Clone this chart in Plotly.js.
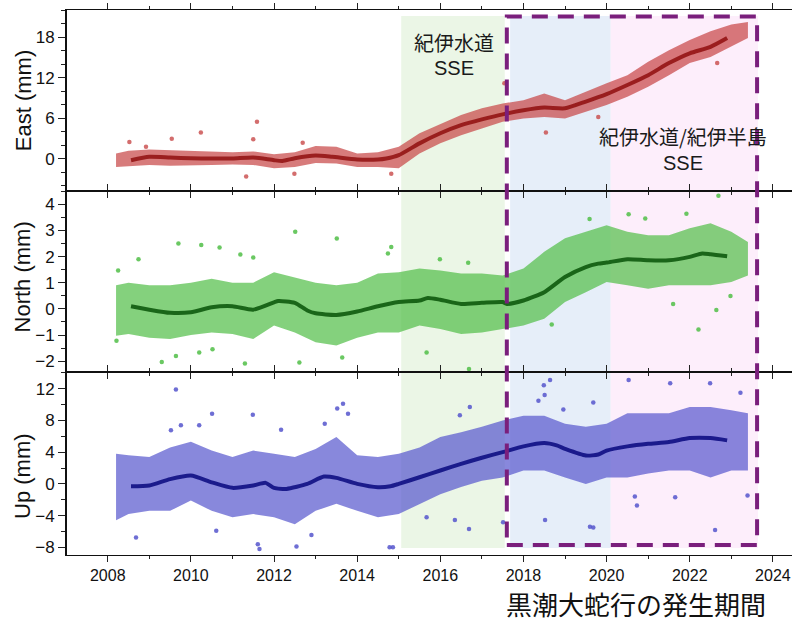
<!DOCTYPE html>
<html>
<head>
<meta charset="utf-8">
<script src="https://cdn.plot.ly/plotly-3.0.1.min.js"></script>
<style>html,body{margin:0;padding:0;background:#fff;}#chart{width:792px;height:621px;}</style>
</head>
<body>
<div id="chart"></div>
<script>
// ---- data ----
const envYears = [2008.2, 2008.5, 2009, 2009.5, 2010, 2010.5, 2011, 2011.5, 2012, 2012.5, 2013, 2013.5, 2014, 2014.5, 2015, 2015.5, 2016, 2016.5, 2017, 2017.5, 2018, 2018.5, 2019, 2019.5, 2020, 2020.5, 2021, 2021.5, 2022, 2022.5, 2023, 2023.4];

// East
const eastUpper = [0.8, 1.2, 1.4, 1.3, 1.3, 1.1, 1.0, 1.1, 0.7, 1.0, 1.9, 1.8, 0.8, 1.0, 1.8, 3.8, 5.2, 6.5, 7.5, 8.2, 8.7, 9.7, 8.7, 10.0, 11.2, 12.4, 14.4, 16.1, 17.6, 18.9, 19.9, 20.3];
const eastLower = [-1.2, -1.1, -0.9, -1.0, -0.9, -0.9, -0.85, -0.9, -1.4, -1.2, -0.6, -0.7, -1.2, -1.2, -1.4, 0.8, 2.3, 3.5, 4.5, 5.5, 6.0, 6.2, 6.0, 7.0, 8.0, 9.2, 10.7, 12.4, 14.2, 15.1, 16.6, 17.9];
const eastTrendYears = [2008.56, 2009, 2009.5, 2010, 2010.5, 2011, 2011.5, 2012, 2012.2, 2012.5, 2013, 2013.4, 2014, 2014.5, 2014.7, 2015, 2015.5, 2016, 2016.5, 2017, 2017.5, 2018, 2018.5, 2019, 2019.5, 2020, 2020.5, 2021, 2021.5, 2022, 2022.5, 2022.9];
const eastTrend = [-0.2, 0.3, 0.2, 0.1, 0.05, 0.05, 0.2, -0.2, -0.3, 0.1, 0.5, 0.3, -0.1, -0.1, 0.05, 0.55, 2.3, 3.8, 5.0, 5.85, 6.6, 7.2, 7.6, 7.5, 8.5, 9.6, 10.95, 12.4, 14.2, 15.65, 16.6, 17.9];
const eastOutX = [2008.52, 2008.92, 2009.54, 2010.24, 2011.59, 2011.5, 2011.33, 2012.69, 2012.49, 2014.82, 2017.54, 2018.54, 2022.66, 2019.8];
const eastOutY = [2.5, 1.8, 3.0, 3.9, 5.5, 2.9, -2.6, 2.4, -2.2, -2.2, 11.2, 3.9, 14.2, 6.2];

// North
const northUpper = [0.9, 1.0, 0.9, 0.9, 1.0, 1.15, 1.0, 1.0, 1.4, 1.2, 1.0, 0.9, 1.0, 1.35, 1.4, 1.54, 1.47, 1.35, 1.35, 1.28, 1.54, 2.18, 2.7, 2.95, 3.2, 2.95, 2.82, 2.82, 3.08, 3.27, 2.95, 2.56];
const northLower = [-1.03, -0.96, -1.1, -1.15, -1.0, -0.9, -0.96, -1.15, -0.64, -0.9, -1.28, -1.4, -1.1, -0.9, -0.9, -0.64, -0.77, -0.96, -0.9, -0.77, -0.64, -0.38, 0.26, 0.64, 1.03, 0.9, 0.77, 0.9, 0.9, 0.9, 1.03, 1.28];
const northTrendYears = [2008.56, 2009, 2009.5, 2010, 2010.5, 2011, 2011.5, 2012, 2012.1, 2012.5, 2012.8, 2013, 2013.5, 2014, 2014.5, 2015, 2015.5, 2015.7, 2016, 2016.5, 2017, 2017.5, 2017.6, 2018, 2018.5, 2019, 2019.5, 2019.8, 2020, 2020.5, 2021, 2021.5, 2022, 2022.3, 2022.5, 2022.9];
const northTrend = [0.1, -0.03, -0.15, -0.13, 0.06, 0.1, -0.03, 0.25, 0.3, 0.23, -0.06, -0.17, -0.23, -0.1, 0.1, 0.26, 0.32, 0.42, 0.35, 0.19, 0.23, 0.26, 0.19, 0.32, 0.64, 1.22, 1.6, 1.73, 1.77, 1.9, 1.86, 1.86, 1.99, 2.12, 2.09, 2.01];
const northOutX = [2008.21, 2008.25, 2008.74, 2009.7, 2010.25, 2010.69, 2011.19, 2011.5, 2012.51, 2013.51, 2009.3, 2011.3, 2012.61, 2013.64, 2014.74, 2014.82, 2009.64, 2010.2, 2010.52, 2016.69, 2015.67, 2022.69, 2020.53, 2019.59, 2021.92, 2022.21, 2022.64, 2021.6, 2018.68, 2022.98, 2020.93, 2016.67, 2015.99];
const northOutY = [-1.22, 1.47, 1.9, 2.5, 2.44, 2.35, 2.08, 1.96, 2.95, 2.69, -2.03, -2.09, -2.05, -1.86, 2.12, 2.37, -1.8, -1.67, -1.54, -2.3, -1.67, 4.33, 3.62, 3.44, 3.64, -0.79, -0.04, 0.19, -0.6, 0.49, 3.46, 1.76, 1.9];

// Up
const upUpper = [3.8, 3.6, 3.4, 4.6, 5.3, 4.2, 3.4, 4.2, 3.8, 3.4, 4.4, 5.9, 3.6, 3.4, 3.8, 4.6, 5.9, 6.5, 7.2, 8.0, 8.6, 8.6, 7.6, 7.2, 7.6, 8.9, 8.9, 8.9, 9.7, 9.7, 9.3, 8.9];
const upLower = [-4.6, -3.8, -3.4, -3.4, -2.1, -3.4, -4.2, -3.8, -4.2, -5.1, -3.4, -2.5, -3.4, -4.2, -3.8, -2.5, -1.3, -0.4, 0.4, 0.8, 1.7, 1.7, 0.8, 0.0, 0.8, 0.8, 1.3, 1.7, 1.7, 0.8, 1.7, 1.7];
const upTrendYears = [2008.56, 2009, 2009.5, 2010, 2010.5, 2011, 2011.5, 2011.8, 2012, 2012.3, 2012.8, 2013.2, 2013.5, 2014, 2014.5, 2014.8, 2015, 2015.5, 2016, 2016.5, 2017, 2017.5, 2018, 2018.5, 2018.8, 2019, 2019.5, 2019.8, 2020, 2020.5, 2021, 2021.5, 2022, 2022.5, 2022.9];
const upTrend = [-0.3, -0.2, 0.6, 1.05, 0.2, -0.5, -0.2, 0.13, -0.5, -0.63, 0.0, 0.93, 0.76, 0.0, -0.42, -0.3, 0.0, 0.84, 1.69, 2.53, 3.3, 4.0, 4.73, 5.15, 4.85, 4.43, 3.59, 3.7, 4.2, 4.73, 5.06, 5.27, 5.78, 5.78, 5.49];
const upOutX = [2009.64, 2010.51, 2011.49, 2012.17, 2013.66, 2013.52, 2013.78, 2013.22, 2008.68, 2011.61, 2011.65, 2012.54, 2012.9, 2014.78, 2010.61, 2009.76, 2010.2, 2009.52, 2018.49, 2018.64, 2018.51, 2018.36, 2020.53, 2021.53, 2022.49, 2023.22, 2019.68, 2018.96, 2016.69, 2018.52, 2019.6, 2019.68, 2020.73, 2022.61, 2023.39, 2017.51, 2016.35, 2015.67, 2014.86, 2021.65, 2020.68, 2016.71, 2016.47];
const upOutY = [11.9, 8.86, 8.73, 6.84, 10.1, 9.5, 8.86, 7.6, -6.75, -7.6, -8.2, -7.9, -6.45, -8.0, -5.9, 7.4, 7.4, 6.75, 12.45, 13.1, 11.2, 10.5, 13.1, 12.7, 12.7, 11.5, 10.25, 9.37, -5.7, -4.56, -5.4, -5.5, -2.74, -5.82, -1.48, -4.85, -4.56, -4.2, -8.0, -1.7, -1.6, 9.7, 8.65];

const panels = [
  {xa: 'x', ya: 'y', upper: eastUpper, lower: eastLower, ty: eastTrendYears, tv: eastTrend, ox: eastOutX, oy: eastOutY,
   fill: 'rgba(200,72,72,0.72)', pt: 'rgba(200,72,72,0.8)', line: 'rgba(135,0,0,0.75)'},
  {xa: 'x2', ya: 'y2', upper: northUpper, lower: northLower, ty: northTrendYears, tv: northTrend, ox: northOutX, oy: northOutY,
   fill: 'rgba(80,190,70,0.7)', pt: 'rgba(80,190,70,0.85)', line: 'rgba(0,75,0,0.8)'},
  {xa: 'x3', ya: 'y3', upper: upUpper, lower: upLower, ty: upTrendYears, tv: upTrend, ox: upOutX, oy: upOutY,
   fill: 'rgba(85,85,205,0.7)', pt: 'rgba(85,85,205,0.85)', line: 'rgba(0,0,120,0.8)'}
];

const traces = [];
panels.forEach(p => {
  traces.push({x: envYears, y: p.lower, xaxis: p.xa, yaxis: p.ya, mode: 'lines', line: {width: 0, color: p.fill}, hoverinfo: 'skip', showlegend: false});
  traces.push({x: envYears, y: p.upper, xaxis: p.xa, yaxis: p.ya, mode: 'lines', line: {width: 0, color: p.fill}, fill: 'tonexty', fillcolor: p.fill, hoverinfo: 'skip', showlegend: false});
  traces.push({x: p.ox, y: p.oy, xaxis: p.xa, yaxis: p.ya, mode: 'markers', marker: {size: 4.5, color: p.pt}, showlegend: false});
  traces.push({x: p.ty, y: p.tv, xaxis: p.xa, yaxis: p.ya, mode: 'lines', line: {width: 4, color: p.line, shape: 'spline', smoothing: 0.6}, showlegend: false});
});

const xRange = [2007.02, 2024.46];
const xTickFont = {family: 'Liberation Sans, Arial, sans-serif', size: 16, color: '#111'};
const yTickFont = {family: 'Liberation Sans, Arial, sans-serif', size: 17, color: '#111'};
function xAxis(showLabels, anchor) {
  return {range: xRange, anchor: anchor, tick0: 2008, dtick: 2, ticks: 'outside', ticklen: 6, tickwidth: 1, tickcolor: '#222',
    showticklabels: showLabels, tickfont: xTickFont, showline: true, linecolor: '#111', linewidth: 1, mirror: 'ticks',
    showgrid: false, zeroline: false, minor: {dtick: 1, ticks: 'outside', ticklen: 3, tickcolor: '#222'}};
}
function yAxis(domain, range, dtick, minor, anchor) {
  return {domain: domain, range: range, anchor: anchor, tick0: 0, dtick: dtick, ticks: 'outside', ticklen: 7, tickwidth: 1, tickcolor: '#222',
    tickfont: yTickFont, showline: true, linecolor: '#111', linewidth: 2, mirror: true, showgrid: false, zeroline: false,
    minor: {dtick: minor, ticks: 'outside', ticklen: 4, tickcolor: '#222'}};
}

const shapes = [
  {type: 'rect', xref: 'x', yref: 'paper', x0: 2015.06, x1: 2017.55, y0: 0.0128, y1: 0.989, fillcolor: '#ebf6e6', line: {width: 0}, layer: 'below'},
  {type: 'rect', xref: 'x', yref: 'paper', x0: 2017.68, x1: 2020.1, y0: 0.0128, y1: 0.989, fillcolor: '#e6eef9', line: {width: 0}, layer: 'below'},
  {type: 'rect', xref: 'x', yref: 'paper', x0: 2020.1, x1: 2023.64, y0: 0.0128, y1: 0.989, fillcolor: '#fdeefb', line: {width: 0}, layer: 'below'},
  {type: 'rect', xref: 'x', yref: 'paper', x0: 2017.6, x1: 2023.62, y0: 0.0183, y1: 0.988, fillcolor: 'rgba(0,0,0,0)', line: {width: 4, color: '#7a1f7c', dash: '16px,10px'}, layer: 'above'}
];

const jp = 'Noto Sans CJK JP, sans-serif';
const lat = 'Liberation Sans, Arial, sans-serif';
const titleFont = {family: lat, size: 22, color: '#111'};
// paper y from pixel row: (555 - px) / 545
const annotations = [
  {xref: 'x', yref: 'paper', x: 2016.33, y: (555 - 42) / 545, text: '紀伊水道', showarrow: false, font: {family: jp, size: 20, color: '#1a1a1a'}, xanchor: 'center', yanchor: 'middle'},
  {xref: 'x', yref: 'paper', x: 2016.33, y: (555 - 68) / 545, text: 'SSE', showarrow: false, font: {family: lat, size: 20, color: '#1a1a1a'}, xanchor: 'center', yanchor: 'middle'},
  {xref: 'x', yref: 'paper', x: 2021.84, y: (555 - 136) / 545, text: '紀伊水道/紀伊半島', showarrow: false, font: {family: jp, size: 20, color: '#1a1a1a'}, xanchor: 'center', yanchor: 'middle'},
  {xref: 'x', yref: 'paper', x: 2021.84, y: (555 - 163) / 545, text: 'SSE', showarrow: false, font: {family: lat, size: 20, color: '#1a1a1a'}, xanchor: 'center', yanchor: 'middle'},
  {xref: 'paper', yref: 'paper', x: 0.7855, y: -0.0885, text: '黒潮大蛇行の発生期間', showarrow: false, font: {family: jp, size: 26, color: '#111'}, xanchor: 'center', yanchor: 'middle'},
  {xref: 'paper', yref: 'paper', x: -0.0607, y: 0.8345, text: 'East (mm)', textangle: -90, showarrow: false, font: titleFont, xanchor: 'center', yanchor: 'middle'},
  {xref: 'paper', yref: 'paper', x: -0.0607, y: 0.511, text: 'North (mm)', textangle: -90, showarrow: false, font: titleFont, xanchor: 'center', yanchor: 'middle'},
  {xref: 'paper', yref: 'paper', x: -0.0607, y: 0.145, text: 'Up (mm)', textangle: -90, showarrow: false, font: titleFont, xanchor: 'center', yanchor: 'middle'}
];

const layout = {
  width: 792, height: 621,
  margin: {l: 67, r: 0, t: 10, b: 66},
  paper_bgcolor: '#fff', plot_bgcolor: 'rgba(0,0,0,0)',
  showlegend: false,
  xaxis: xAxis(false, 'y'),
  xaxis2: xAxis(false, 'y2'),
  xaxis3: xAxis(true, 'y3'),
  yaxis: yAxis([0.668, 1], [-4.75, 22.06], 6, 2, 'x'),
  yaxis2: yAxis([0.335, 0.668], [-2.43, 4.51], 1, 0.5, 'x2'),
  yaxis3: yAxis([0, 0.335], [-8.97, 14.06], 4, 2, 'x3'),
  shapes: shapes,
  annotations: annotations
};
layout.yaxis.tickvals = [0, 6, 12, 18];

Plotly.newPlot('chart', traces, layout, {displayModeBar: false, staticPlot: true});
</script>
</body>
</html>
